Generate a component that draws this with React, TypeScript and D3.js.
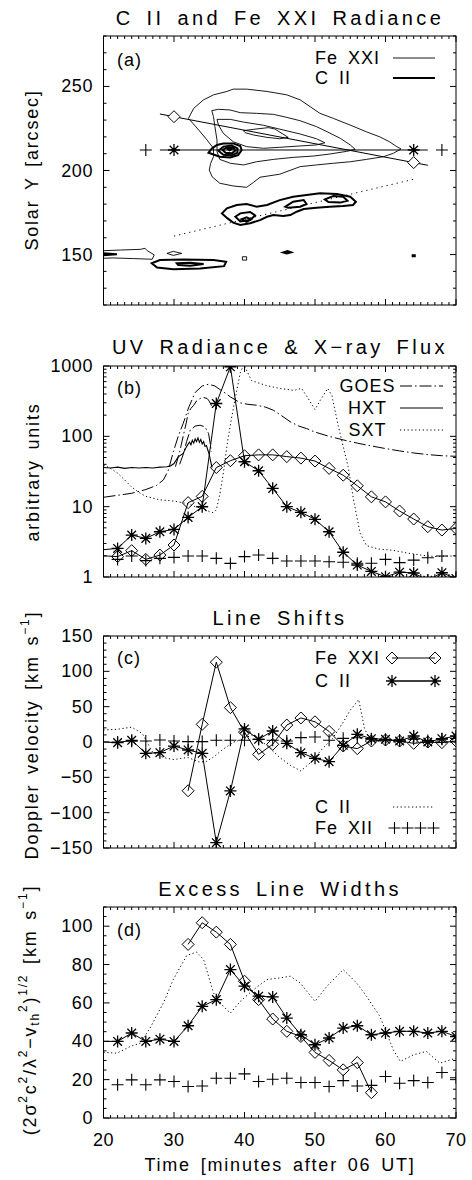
import React from "react";
import * as d3 from "d3";

const FONT = "'Liberation Sans', Arial, sans-serif";
type Pt = [number, number];

// ---------------- shared time axis ----------------
const timeMajor = [20, 30, 40, 50, 60, 70];
const timeMinor = d3.range(20, 71, 1);

// ---------------- panel (a): radiance maps ----------------
const slitT = [28, 66];
const slitHorizY = [212.2, 212.2];
const slitTiltY = [233.6, 203.1];
const markT = [30, 64];
const markTiltY = [232.0, 204.7];
const plusT = [26, 68];
const dotLineT = [30, 64];
const dotLineY = [161, 194.8];

const fe21C1: Pt[] = [[32.05,231.0],[32.8,237],[34.18,242],[35.6,245],[37.5,247],[38.4,248.4],[40.3,248.4],[43.2,247],[46.0,245],[47.9,242],[49.3,238],[50.7,234],[52.6,231],[55.0,227],[57.3,223],[59.2,220],[60.6,217],[61.6,214.2],[62.2,212.8],[61.1,210.2],[59.7,208.2],[57.3,206.6],[55.0,205.2],[52.6,204.3],[50.2,203.3],[47.9,202.3],[45.0,197.8],[42.2,196.0],[41.3,193.0],[40.3,190.0],[38.4,190.8],[36.5,192.4],[35.4,196.3],[35.0,200.3],[35.2,204.3],[35.6,208.2],[35.6,213.2],[34.7,218.1],[33.5,224.1]];
const fe21C2: Pt[] = [[35.36,235.6],[36.3,236.4],[37.96,236.0],[39.4,234.4],[41.7,234.0],[44.1,233.4],[46.0,231.6],[47.9,229.6],[50.2,226.1],[51.7,223.1],[53.6,219.1],[55.0,215.2],[55.7,212.6],[54.5,211.4],[52.1,209.8],[49.8,208.6],[46.9,207.8],[44.1,206.6],[41.7,205.2],[39.85,203.3],[38.0,204.3],[36.5,206.6],[36.1,211.2],[36.1,218.1],[35.8,226.1],[35.6,232.0]];
const fe21C3: Pt[] = [[36.1,230.4],[38.0,230.4],[39.85,228.8],[42.7,226.9],[45.5,224.1],[47.9,221.7],[50.2,218.9],[51.4,216.5],[50.2,215.2],[47.9,214.6],[45.0,213.8],[42.7,213.2],[40.3,214.2],[38.4,217.1],[37.0,222.1],[36.3,227.1]];
const fe21C4: Pt[] = [[39.85,223.7],[41.3,224.5],[43.4,225.5],[44.3,224.7],[46.2,219.7],[45.0,218.9],[43.2,219.7],[41.3,221.1],[40.1,222.5]];
const fe21Small1: Pt[] = [[20,152.3],[22.4,152.7],[25.2,153.1],[25.9,153.7],[26.2,152.3],[27.2,149.8],[26.9,147.2],[24.3,147.6],[21.4,148.0],[20,147.8]];
const fe21Small2: Pt[] = [[29.0,150.7],[29.9,151.9],[31.1,150.7],[29.9,149.5]];
const fe21Small3: Pt[] = [[39.7,148.7],[40.3,148.7],[40.3,146.7],[39.7,146.7]];

const ciiA1: Pt[] = [[34.9,210.6],[35.4,213.2],[36.1,215.2],[37.0,216.1],[38.4,216.1],[39.4,214.6],[39.6,212.2],[39.1,209.2],[38.0,207.8],[36.5,208.2],[35.7,209.4]];
const ciiA2: Pt[] = [[36.3,211.8],[37.0,214.2],[38.2,214.8],[39.0,213.2],[39.0,210.6],[38.2,209.0],[37.0,209.4]];
const ciiA3: Pt[] = [[36.9,212.2],[37.5,213.8],[38.4,213.6],[38.7,211.8],[38.2,210.2],[37.3,210.6]];
const ciiA4: Pt[] = [[37.6,212.8],[37.9,213.4],[38.2,212.8],[37.9,212.0]];
const ciiB1: Pt[] = [[36.8,174.5],[37.5,177.5],[38.9,179.5],[40.3,180.1],[41.7,178.5],[43.2,179.5],[45.0,182.4],[46.9,184.4],[48.8,185.4],[50.7,186.4],[53.1,186.0],[55.0,184.4],[55.8,181.4],[55.4,179.5],[54.0,178.9],[52.1,178.5],[50.2,177.9],[48.4,177.1],[47.4,175.5],[46.5,173.5],[45.5,172.9],[44.1,173.5],[43.2,172.5],[42.2,170.5],[40.8,168.6],[39.4,167.6],[38.4,169.0],[37.6,171.5]];
const ciiB2: Pt[] = [[45.8,178.5],[46.9,181.4],[48.4,182.4],[48.8,180.1],[47.9,178.5],[46.2,177.9]];
const ciiB3: Pt[] = [[51.4,182.8],[52.6,184.8],[54.0,184.4],[54.6,182.0],[53.6,180.9],[51.9,181.3]];
const ciiB4: Pt[] = [[38.7,172.5],[39.4,174.5],[40.8,175.3],[41.5,173.3],[40.8,170.5],[39.4,169.7]];
const ciiB5: Pt[] = [[39.6,171.1],[40.3,172.1],[40.9,170.9],[40.3,169.5]];
const ciiC1: Pt[] = [[26.85,144.8],[28.0,146.7],[31.3,147.1],[35.6,146.7],[37.4,145.7],[37.1,143.1],[33.7,141.7],[29.9,141.2],[27.6,142.3]];
const ciiC2: Pt[] = [[30.4,144.8],[32.3,145.2],[34.2,144.4],[32.3,143.4],[30.6,143.8]];
const ciiC3: Pt[] = [[20,150.8],[21.9,150.2],[20,149.6]];
const ciiC4: Pt[] = [[45.5,151.3],[46.1,152.1],[46.6,151.3],[46.0,150.7]];
const ciiC5: Pt[] = [[63.85,149.6],[64.15,149.6],[64.15,149.0],[63.85,149.0]];

const fe21Contours = [fe21C1, fe21C2, fe21C3, fe21C4, fe21Small1, fe21Small2, fe21Small3];
const ciiContours = [ciiA1, ciiA2, ciiA3, ciiA4, ciiB1, ciiB2, ciiB3, ciiB4, ciiB5, ciiC1, ciiC2, ciiC3, ciiC4, ciiC5];

// ---------------- panel (b): radiance & X-ray flux ----------------
const tB = [18,22,24,26,28,30,32,34,36,38,40,42,44,46,48,50,52,54,56,58,60,62,64,66,68,70];
const fe21RadB = [2.05,1.95,2.37,1.78,2.05,2.85,11.4,14.0,36,45,53,54.5,54.5,51.5,49,44.5,35,28,19.8,13.8,11.7,8.66,6.67,5.19,4.65,4.91];
const ciiRadB = [2.35,2.55,3.95,3.54,4.4,4.75,7.04,9.98,293,975,43.5,32.4,18.2,10,8.3,6.6,4.4,2.25,1.48,1.2,1.01,1.17,1.14,0.9,1.15,0.95];
const tFe12B = [22,24,26,28,30,32,34,36,38,40,42,44,46,48,50,52,54,56,58,60,62,64,66,68];
const fe12RadB = [1.78,1.99,1.71,1.84,1.9,1.99,1.99,1.84,1.56,1.95,2.05,1.84,1.69,1.69,1.69,1.65,1.62,1.57,1.57,1.78,1.6,1.74,1.88,1.99];
const hxtT = [20,21,22,23,24,25,26,27,28,29,29.5,30,30.6,31.3,31.8,32.2,32.4,32.6,32.8,33.0,33.2,33.4,33.6,33.8,34.0,34.2,34.4,34.6,34.8,35.0,35.2,35.4];
const hxtV = [36,35.5,36.5,35,36,35.5,36,35.5,36.5,37,38,41,51,57,72,83,76,88,80,92,84,95,82,90,78,84,72,74,64,55,44,36];
const goesT = [20,22,24,26,27.5,28.5,29.2,29.9,30.6,31.3,32.1,33.0,34.0,34.9,35.8,36.5,37.3,38.0,39.4,40.5,41.7,43,44.1,45.3,46.5,47.7,48.8,50,52,54,56,58,60,62,64,66,68,70];
const goesV = [13.6,14.5,15.5,17.5,20,24,33,60,100,152,260,420,520,551,520,464,410,364,299,285,277,260,235,195,161,140,129,115,100,89,80,73,67,62,58,55,53,52];
const goes2T = [30.2,30.8,31.3,31.7,32.0,32.4,32.8,33.2,33.7,34.2,34.7,34.9,35.2,35.4];
const goes2V = [37,60,100,150,211,250,277,319,345,357,345,327,290,262];
const goes3T = [30.8,31.3,31.8,32.3,33.0,33.7,34.4,34.9,35.1,35.3];
const goes3V = [40,55,85,122,140,144,136,110,83,60];
const sxtT = [20,21,22,23,24,25,26,28,30,32,33,34,35,35.6,36.0,36.5,37,37.6,38.2,38.8,39.4,39.9,41,43,45,47,48.1,49,50,50.7,51.8,52.4,53.3,54.7,55.5,56.4,57.3,59,61,63,65,67,70];
const sxtV = [39,35,30,24,19,16,14,12.5,12,11,10,9.5,8.5,8.2,9,15,30,85,190,400,800,1050,620,530,480,450,480,350,240,320,480,380,140,37,12,4.2,2.8,2.5,2.4,2.2,2.05,1.95,2.0];

// ---------------- panel (c): Doppler shifts ----------------
const tC = [18,22,24,26,28,30,32,34,36,38,40,42,44,46,48,50,52,54,56,58,60,62,64,66,68,70];
const ciiVelC = [0.9,-0.9,2.4,-16,-15.1,-5.7,-11.3,-16,-142.5,-69.3,18.5,3.8,15.6,-1.9,-15.1,-23.1,-27.8,-4.7,10.8,4.7,3.8,1.4,8.5,0,4.7,8.5];
const tFe21C = [32,34,36,38,40,42,44,46,48,50,52,54,56,58,60,62,64,66,68,70];
const fe21VelC = [-69,25,113,48.6,14,-17.5,-3.3,24,34,28.6,15,-5.7,-9.4,1.4,2.8,1.4,-1.9,0,-0.9,1.4];
const tFe12C = [22,24,26,28,30,32,34,36,38,40,42,44,46,48,50,52,54,56,58,60,62,64,66,68,70];
const fe12VelC = [0,1,1.4,2.8,1.4,0.6,0.6,2.4,2.4,2.4,3.8,2.4,1.4,6.2,7.1,2.4,5.2,6,4,3,3,4,2,4,5];
const cii2VelT = [20,22,24,25.5,27,28.5,30,31,32,33.5,34.5,35.5,37,38.5,40,41,42,43.5,45,46.5,48,49.5,51,52.5,54,55,56.2,57,57.8,60,62,65,70];
const cii2VelV = [17,18,21,12,-15,-22,-25,-23,-22,-28,-28,-22,-10,0,5,10,5,-8,-22,-33,-41,-28,-10,5,28,45,60,20,2,0,0,0,0];

// ---------------- panel (d): excess widths ----------------
const tD = [18,22,24,26,28,30,32,34,36,38,40,42,44,46,48,50,52,54,56,58,60,62,64,66,68,70];
const ciiWidD = [40,39.9,44.3,39.9,41.1,39.9,48.1,58.2,61.7,77.4,68.7,63.5,63.1,52.1,43.4,38.2,41.7,46.9,48.1,43.4,44.3,45.2,45.2,44.3,45.2,42.5];
const tFe21D = [32,34,36,38,40,42,44,46,48,50,52,54,56,58];
const fe21WidD = [90.5,101.8,96.9,90.5,71.3,61.7,51.6,45.2,42.5,34.2,30,25.1,28.9,13.2];
const tFe12D = [22,24,26,28,30,32,34,36,38,40,42,44,46,48,50,52,54,56,58,60,62,64,66,68,70];
const fe12WidD = [17.3,19.9,17.3,19.9,19,16.4,16.7,20.7,20.7,23,19,20.2,20.7,18.5,18.5,16.4,19.5,16.7,17,21.6,18.1,19.5,18.5,23.7,21];
const cii2WidT = [20,21.9,23.8,25.2,26.6,28.5,29.9,31.8,33.2,34.2,35.6,37.0,38.0,39.4,41.3,43.2,45.0,46.5,47.9,50.0,51.7,54.0,55.9,57.3,59.2,61.1,62.1,64.0,65.8,67.7,70];
const cii2WidV = [34.2,33.8,37.3,39,46.9,60,72.2,84.7,86.5,82.6,65.2,58.2,54.7,60.8,67,72.2,73,73.9,70.4,60.8,68.7,77.4,70.4,63.5,53,35.6,29.5,33,34.7,28.6,31.2];

// ---------------- scales ----------------
const x = d3.scaleLinear().domain([20, 70]).range([103.5, 456]);
const yA = d3.scaleLinear().domain([120, 280]).range([305, 36]);
const yB = d3.scaleLog().domain([1, 1000]).range([577, 366]);
const yC = d3.scaleLinear().domain([-150, 150]).range([848, 636]);
const yD = d3.scaleLinear().domain([0, 110]).range([1118, 907]);

const zip = (t: number[], v: number[]): Pt[] => t.map((d, i) => [d, v[i]]);

function diamond(cx: number, cy: number, s = 6) {
  return `M${cx},${cy - s}L${cx + s},${cy}L${cx},${cy + s}L${cx - s},${cy}Z`;
}
function plus(cx: number, cy: number, s = 6) {
  return `M${cx - s},${cy}H${cx + s}M${cx},${cy - s}V${cy + s}`;
}
function star(cx: number, cy: number, s = 6) {
  const d = s * 0.72;
  return `M${cx - s},${cy}H${cx + s}M${cx},${cy - s}V${cy + s}M${cx - d},${cy - d}L${cx + d},${cy + d}M${cx - d},${cy + d}L${cx + d},${cy - d}`;
}

function Frame({ y, major, minor, fmt, xLabels, log }: any) {
  const [yb, yt] = y.range();
  const [xl, xr] = x.range();
  return (
    <g>
      <g stroke="#000" strokeWidth={1} fill="none">
        <rect x={xl} y={yt} width={xr - xl} height={yb - yt} />
        {timeMinor.map((t) => {
          const L = timeMajor.includes(t) ? 6 : 3;
          const px = x(t);
          return <path key={"x" + t} d={`M${px},${yb}v${-L}M${px},${yt}v${L}`} />;
        })}
        {major.map((v: number) => {
          const py = y(v);
          return <path key={"M" + v} d={`M${xl},${py}h6M${xr},${py}h-6`} />;
        })}
        {minor.map((v: number) => {
          const py = y(v);
          return <path key={"m" + v} d={`M${xl},${py}h3M${xr},${py}h-3`} />;
        })}
      </g>
      <g fontFamily={FONT} fontSize={18} fill="#000" letterSpacing={0.6}>
        {major.map((v: number) => (
          <text key={"l" + v} x={93} y={y(v)} textAnchor="end" dominantBaseline="central">
            {fmt(v)}
          </text>
        ))}
        {xLabels &&
          timeMajor.map((t) => (
            <text key={"xl" + t} x={x(t)} y={1140} textAnchor="middle" dominantBaseline="central">
              {t}
            </text>
          ))}
      </g>
    </g>
  );
}

function Clip({ id, y }: any) {
  const [yb, yt] = y.range();
  const [xl, xr] = x.range();
  return (
    <clipPath id={id}>
      <rect x={xl} y={yt} width={xr - xl} height={yb - yt} />
    </clipPath>
  );
}

const fmtMinus = (v: number) => (v < 0 ? "\u2212" + Math.abs(v) : String(v));

export default function App() {
  const lineA = d3.line<Pt>().x((d) => x(d[0])).y((d) => yA(d[1]));
  const closedA = d3.line<Pt>().x((d) => x(d[0])).y((d) => yA(d[1])).curve(d3.curveLinearClosed);
  const lineB = d3.line<Pt>().x((d) => x(d[0])).y((d) => yB(d[1]));
  const lineC = d3.line<Pt>().x((d) => x(d[0])).y((d) => yC(d[1]));
  const lineD = d3.line<Pt>().x((d) => x(d[0])).y((d) => yD(d[1]));

  const titleStyle = { fontFamily: FONT, fontSize: 20, letterSpacing: 3.4, wordSpacing: 4 } as any;
  const labStyle = { fontFamily: FONT, fontSize: 18, letterSpacing: 1.8, wordSpacing: 3 } as any;
  const legStyle = { fontFamily: FONT, fontSize: 18, letterSpacing: 1, wordSpacing: 4 } as any;
  const dash = "12,3,1.5,3";
  const dots = "1.2,2.6";

  const minorA = d3.range(120, 281, 10).filter((v) => v % 50 !== 0);
  const minorB: number[] = [];
  [1, 10, 100].forEach((dec) => [2, 3, 4, 5, 6, 7, 8, 9].forEach((k) => minorB.push(k * dec)));
  const minorC = d3.range(-150, 151, 10).filter((v) => v % 50 !== 0);
  const minorD = d3.range(0, 111, 5).filter((v) => v % 20 !== 0);

  const symB = (t: number[], v: number[], f: any, yS: any) =>
    t.map((tt, i) => (tt >= 20 ? f(x(tt), yS(v[i])) : "")).join("");

  return (
    <svg width={472} height={1180} style={{ position: "absolute", left: 0, top: 0, background: "#fff" }}>
      <defs>
        <Clip id="ca" y={yA} />
        <Clip id="cb" y={yB} />
        <Clip id="cc" y={yC} />
        <Clip id="cd" y={yD} />
      </defs>
      <rect x={0} y={0} width={472} height={1180} fill="#fff" />

      {/* ---------------- panel (a) ---------------- */}
      <text x={280} y={17.5} textAnchor="middle" dominantBaseline="central" style={titleStyle}>C II and Fe XXI Radiance</text>
      <g clipPath="url(#ca)" fill="none" stroke="#000">
        {fe21Contours.map((c, i) => <path key={"f" + i} d={closedA(c) || ""} strokeWidth={0.9} />)}
        {ciiContours.map((c, i) => <path key={"c" + i} d={closedA(c) || ""} strokeWidth={2} />)}
        <path d={lineA(zip(slitT, slitHorizY)) || ""} strokeWidth={1} />
        <path d={lineA(zip(slitT, slitTiltY)) || ""} strokeWidth={1} />
        <path d={lineA(zip(dotLineT, dotLineY)) || ""} strokeWidth={1} strokeDasharray="1.2,4" />
        <path d={markT.map((t, i) => diamond(x(t), yA(markTiltY[i]))).join("")} strokeWidth={1} fill="#fff" />
        <path d={markT.map((t, i) => star(x(t), yA(slitHorizY[i]))).join("")} strokeWidth={1.3} />
        <path d={plusT.map((t) => plus(x(t), yA(slitHorizY[0]))).join("")} strokeWidth={1.1} />
      </g>
      <Frame y={yA} major={[150, 200, 250]} minor={minorA} fmt={String} />
      <text x={117} y={60} dominantBaseline="central" style={legStyle}>(a)</text>
      <text x={315} y={58} dominantBaseline="central" style={legStyle}>Fe XXI</text>
      <text x={315} y={78} dominantBaseline="central" style={legStyle}>C II</text>
      <path d="M393,58H435" stroke="#000" strokeWidth={0.9} />
      <path d="M393,78H435" stroke="#000" strokeWidth={2} />
      <text transform="translate(32,170) rotate(-90)" textAnchor="middle" dominantBaseline="central" style={labStyle}>Solar Y [arcsec]</text>

      {/* ---------------- panel (b) ---------------- */}
      <text x={280} y={347} textAnchor="middle" dominantBaseline="central" style={titleStyle}>UV Radiance &amp; X−ray Flux</text>
      <g clipPath="url(#cb)" fill="none" stroke="#000">
        <path d={lineB(zip(sxtT, sxtV)) || ""} strokeWidth={1} strokeDasharray={dots} />
        <path d={lineB(zip(goesT, goesV)) || ""} strokeWidth={1} strokeDasharray={dash} />
        <path d={lineB(zip(goes2T, goes2V)) || ""} strokeWidth={1} strokeDasharray={dash} />
        <path d={lineB(zip(goes3T, goes3V)) || ""} strokeWidth={1} strokeDasharray={dash} />
        <path d={lineB(zip(hxtT, hxtV)) || ""} strokeWidth={1.1} />
        <path d={lineB(zip(tB, fe21RadB)) || ""} strokeWidth={1} />
        <path d={lineB(zip(tB, ciiRadB)) || ""} strokeWidth={1} />
        <path d={symB(tB, fe21RadB, diamond, yB)} strokeWidth={1} />
        <path d={symB(tB, ciiRadB, star, yB)} strokeWidth={1.3} />
        <path d={symB(tFe12B, fe12RadB, plus, yB)} strokeWidth={1.1} />
      </g>
      <Frame y={yB} major={[1, 10, 100, 1000]} minor={minorB} fmt={String} />
      <text x={117} y={388} dominantBaseline="central" style={legStyle}>(b)</text>
      <text x={367.5} y={386} textAnchor="middle" dominantBaseline="central" style={legStyle}>GOES</text>
      <text x={367.5} y={408} textAnchor="middle" dominantBaseline="central" style={legStyle}>HXT</text>
      <text x={367.5} y={430} textAnchor="middle" dominantBaseline="central" style={legStyle}>SXT</text>
      <path d="M400,386H443" stroke="#000" strokeDasharray={dash} />
      <path d="M400,408H443" stroke="#000" />
      <path d="M400,430H443" stroke="#000" strokeDasharray={dots} />
      <text transform="translate(33,472) rotate(-90)" textAnchor="middle" dominantBaseline="central" style={labStyle}>arbitrary units</text>

      {/* ---------------- panel (c) ---------------- */}
      <text x={280} y={618} textAnchor="middle" dominantBaseline="central" style={titleStyle}>Line Shifts</text>
      <g clipPath="url(#cc)" fill="none" stroke="#000">
        <path d={lineC(zip(cii2VelT, cii2VelV)) || ""} strokeWidth={1} strokeDasharray={dots} />
        <path d={lineC(zip(tC, ciiVelC)) || ""} strokeWidth={1} />
        <path d={lineC(zip(tFe21C, fe21VelC)) || ""} strokeWidth={1} />
        <path d={symB(tFe21C, fe21VelC, diamond, yC)} strokeWidth={1} />
        <path d={symB(tC, ciiVelC, star, yC)} strokeWidth={1.3} />
        <path d={symB(tFe12C, fe12VelC, plus, yC)} strokeWidth={1.1} />
      </g>
      <Frame y={yC} major={[-150, -100, -50, 0, 50, 100, 150]} minor={minorC} fmt={fmtMinus} />
      <text x={117} y={658} dominantBaseline="central" style={legStyle}>(c)</text>
      <text x={315} y={658} dominantBaseline="central" style={legStyle}>Fe XXI</text>
      <text x={315} y={681} dominantBaseline="central" style={legStyle}>C II</text>
      <text x={315} y={807} dominantBaseline="central" style={legStyle}>C II</text>
      <text x={315} y={828} dominantBaseline="central" style={legStyle}>Fe XII</text>
      <g fill="none" stroke="#000">
        <path d={`M392,658H435${diamond(392, 658)}${diamond(435, 658)}`} strokeWidth={1} />
        <path d={`M392,681H435${star(392, 681)}${star(435, 681)}`} strokeWidth={1.3} />
        <path d="M393,807H433" strokeDasharray={dots} />
        <path d={[394.5, 407.5, 420.5, 433.5].map((px) => plus(px, 828)).join("")} strokeWidth={1.1} />
      </g>
      <text transform="translate(32,735) rotate(-90)" textAnchor="middle" dominantBaseline="central" style={labStyle}>
        Doppler velocity [km s<tspan dy={-7} fontSize={12}>−1</tspan><tspan dy={7}>]</tspan>
      </text>

      {/* ---------------- panel (d) ---------------- */}
      <text x={280} y={889} textAnchor="middle" dominantBaseline="central" style={titleStyle}>Excess Line Widths</text>
      <g clipPath="url(#cd)" fill="none" stroke="#000">
        <path d={lineD(zip(cii2WidT, cii2WidV)) || ""} strokeWidth={1} strokeDasharray={dots} />
        <path d={lineD(zip(tD, ciiWidD)) || ""} strokeWidth={1} />
        <path d={lineD(zip(tFe21D, fe21WidD)) || ""} strokeWidth={1} />
        <path d={symB(tFe21D, fe21WidD, diamond, yD)} strokeWidth={1} />
        <path d={symB(tD, ciiWidD, star, yD)} strokeWidth={1.3} />
        <path d={symB(tFe12D, fe12WidD, plus, yD)} strokeWidth={1.1} />
      </g>
      <Frame y={yD} major={[0, 20, 40, 60, 80, 100]} minor={minorD} fmt={String} xLabels />
      <text x={117} y={930} dominantBaseline="central" style={legStyle}>(d)</text>
      <text transform="translate(30,1010) rotate(-90)" textAnchor="middle" dominantBaseline="central" style={labStyle}>
        (2σ<tspan dy={-7} fontSize={12}>2</tspan>
        <tspan dy={7}>c</tspan><tspan dy={-7} fontSize={12}>2</tspan>
        <tspan dy={7}>/λ</tspan><tspan dy={-7} fontSize={12}>2</tspan>
        <tspan dy={7}>−v</tspan><tspan dy={5} fontSize={12}>th</tspan><tspan dy={-12} fontSize={12}>2</tspan>
        <tspan dy={7}>)</tspan><tspan dy={-7} fontSize={12}>1/2</tspan>
        <tspan dy={7}> [km s</tspan><tspan dy={-7} fontSize={12}>−1</tspan><tspan dy={7}>]</tspan>
      </text>
      <text x={280} y={1165} textAnchor="middle" dominantBaseline="central" style={labStyle}>Time [minutes after 06 UT]</text>
    </svg>
  );
}
